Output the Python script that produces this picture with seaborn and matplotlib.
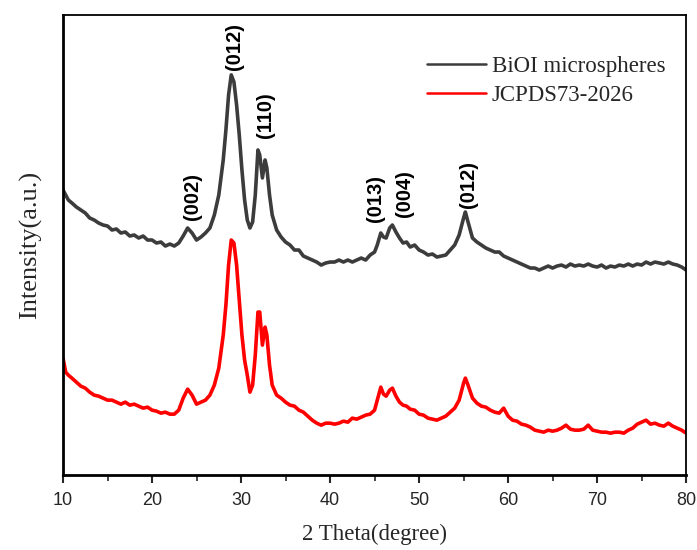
import matplotlib
matplotlib.use("Agg")
import matplotlib.pyplot as plt
from matplotlib.ticker import MultipleLocator
import seaborn as sns
import pandas as pd

two_theta = [10, 10.3, 10.6, 11, 11.5, 12, 12.5, 13, 13.5, 14, 14.5, 15, 15.5, 16, 16.5, 17, 17.5, 18, 18.5, 19,
             19.5, 20, 20.5, 21, 21.5, 22, 22.5, 23, 23.5, 24, 24.5, 25, 25.5, 26, 26.5, 27, 27.5, 28, 28.3, 28.6,
             28.9, 29.2, 29.5, 29.8, 30.1, 30.4, 30.7, 31, 31.3, 31.6, 31.9, 32.1, 32.4, 32.7, 32.9, 33.2, 33.5, 34, 34.5, 35,
             35.5, 36, 36.5, 37, 37.5, 38, 38.5, 39, 39.5, 40, 40.5, 41, 41.5, 42, 42.5, 43, 43.5, 44, 44.5, 45,
             45.3, 45.7, 46, 46.3, 46.7, 47, 47.4, 47.8, 48.2, 48.6, 49, 49.5, 50, 50.5, 51, 51.5, 52, 52.5, 53, 53.5,
             54, 54.5, 55, 55.2, 55.5, 56, 56.5, 57, 57.5, 58, 58.5, 59, 59.5, 60, 60.5, 61, 61.5, 62, 62.5, 63,
             63.5, 64, 64.5, 65, 65.5, 66, 66.5, 67, 67.5, 68, 68.5, 69, 69.5, 70, 70.5, 71, 71.5, 72, 72.5, 73,
             73.5, 74, 74.5, 75, 75.5, 76, 76.5, 77, 77.5, 78, 78.5, 79, 79.5, 80]

biooi = [285, 280, 275, 272, 268, 265, 262, 257, 255, 252, 250, 249, 245, 246, 242, 243, 239, 240, 237, 239,
         235, 235, 232, 233, 229, 231, 229, 232, 239, 247, 242, 235, 238, 242, 247, 260, 280, 315, 345, 380,
         400, 393, 370, 340, 305, 275, 255, 247, 253, 280, 325, 320, 297, 315, 307, 280, 260, 245, 238, 233,
         230, 225, 225, 219, 217, 215, 213, 210, 212, 213, 213, 215, 213, 215, 213, 215, 217, 215, 220, 223,
         230, 242, 238, 237, 247, 250, 243, 237, 232, 233, 228, 230, 225, 223, 220, 221, 218, 219, 220, 225,
         230, 240, 257, 263, 253, 237, 233, 230, 227, 225, 223, 223, 219, 217, 215, 213, 211, 209, 207, 207,
         205, 207, 209, 207, 209, 210, 208, 211, 209, 210, 209, 211, 209, 208, 210, 207, 209, 208, 210, 209,
         211, 209, 211, 210, 213, 211, 213, 212, 211, 213, 211, 210, 208, 205]

jcpds = [117, 103, 100, 97, 93, 89, 87, 83, 80, 79, 77, 75, 75, 73, 71, 73, 70, 71, 69, 67,
         68, 65, 64, 62, 63, 61, 61, 65, 77, 86, 80, 71, 73, 75, 80, 90, 107, 140, 170, 210,
         235, 232, 210, 175, 140, 115, 100, 83, 90, 120, 163, 163, 130, 148, 140, 110, 90, 80, 77, 73,
         70, 69, 65, 63, 59, 55, 52, 50, 52, 52, 51, 52, 54, 53, 57, 56, 58, 60, 61, 65,
         75, 88, 81, 79, 85, 87, 79, 73, 70, 69, 66, 65, 61, 60, 57, 56, 55, 57, 59, 63,
         67, 75, 92, 97, 90, 77, 72, 69, 68, 65, 63, 62, 67, 59, 55, 54, 51, 50, 48, 45,
         44, 43, 45, 44, 45, 47, 50, 46, 45, 45, 46, 50, 45, 44, 43, 43, 42, 43, 43, 42,
         45, 47, 51, 53, 55, 51, 52, 50, 49, 52, 49, 47, 45, 42]

series_names = ["BiOI microspheres", "JCPDS73-2026"]
series_colors = ["#3c3c3c", "#ff0000"]

peak_labels = ["(002)", "(012)", "(110)", "(013)", "(004)", "(012)"]
peak_x = [24.5, 29.3, 32.7, 45.1, 48.4, 55.5]
peak_y = [255, 405, 337, 253, 258, 267]

df = pd.DataFrame({
    "two_theta": two_theta * 2,
    "intensity": biooi + jcpds,
    "series": [series_names[0]] * len(two_theta) + [series_names[1]] * len(two_theta),
})

sns.set_style("white")
fig = plt.figure(figsize=(6.97, 5.5), dpi=100)
ax = fig.add_axes([0.0904, 0.136, 0.894, 0.837])

sns.lineplot(data=df, x="two_theta", y="intensity", hue="series",
             palette=dict(zip(series_names, series_colors)), linewidth=2.6,
             sort=False, estimator=None, ax=ax)

ax.set_xlim(10, 80)
ax.set_ylim(0, 460)
ax.set_yticks([])
ax.xaxis.set_major_locator(MultipleLocator(10))
ax.xaxis.set_minor_locator(MultipleLocator(5))
ax.tick_params(axis="x", which="major", direction="out", length=6, width=1.5,
               bottom=True, labelsize=13, pad=6)
ax.tick_params(axis="x", which="minor", direction="out", length=4, width=1.2, bottom=True)
for lab in ax.get_xticklabels():
    lab.set_fontfamily("Liberation Sans")

for side in ["left", "bottom"]:
    ax.spines[side].set_linewidth(2.0)
for side in ["top", "right"]:
    ax.spines[side].set_linewidth(1.3)
for s in ax.spines.values():
    s.set_color("black")

ax.set_xlabel("2 Theta(degree)", fontsize=16.5, family="Liberation Serif", labelpad=11)
ax.set_ylabel("Intensity(a.u.)", fontsize=19, family="Liberation Serif", labelpad=15)

for lab, px, py in zip(peak_labels, peak_x, peak_y):
    ax.text(px, py, lab, rotation=90, ha="center", va="bottom", fontsize=14.5,
            fontweight="bold", family="Liberation Sans", color="black")

leg = ax.legend(loc="upper right", bbox_to_anchor=(1.0, 0.955), frameon=False,
                prop={"family": "Liberation Serif", "size": 16.5}, handlelength=2.6,
                handletextpad=0.25, labelspacing=0.35)
for line in leg.get_lines():
    line.set_linewidth(1.8)

fig.savefig("out.png", dpi=100, facecolor="white")
